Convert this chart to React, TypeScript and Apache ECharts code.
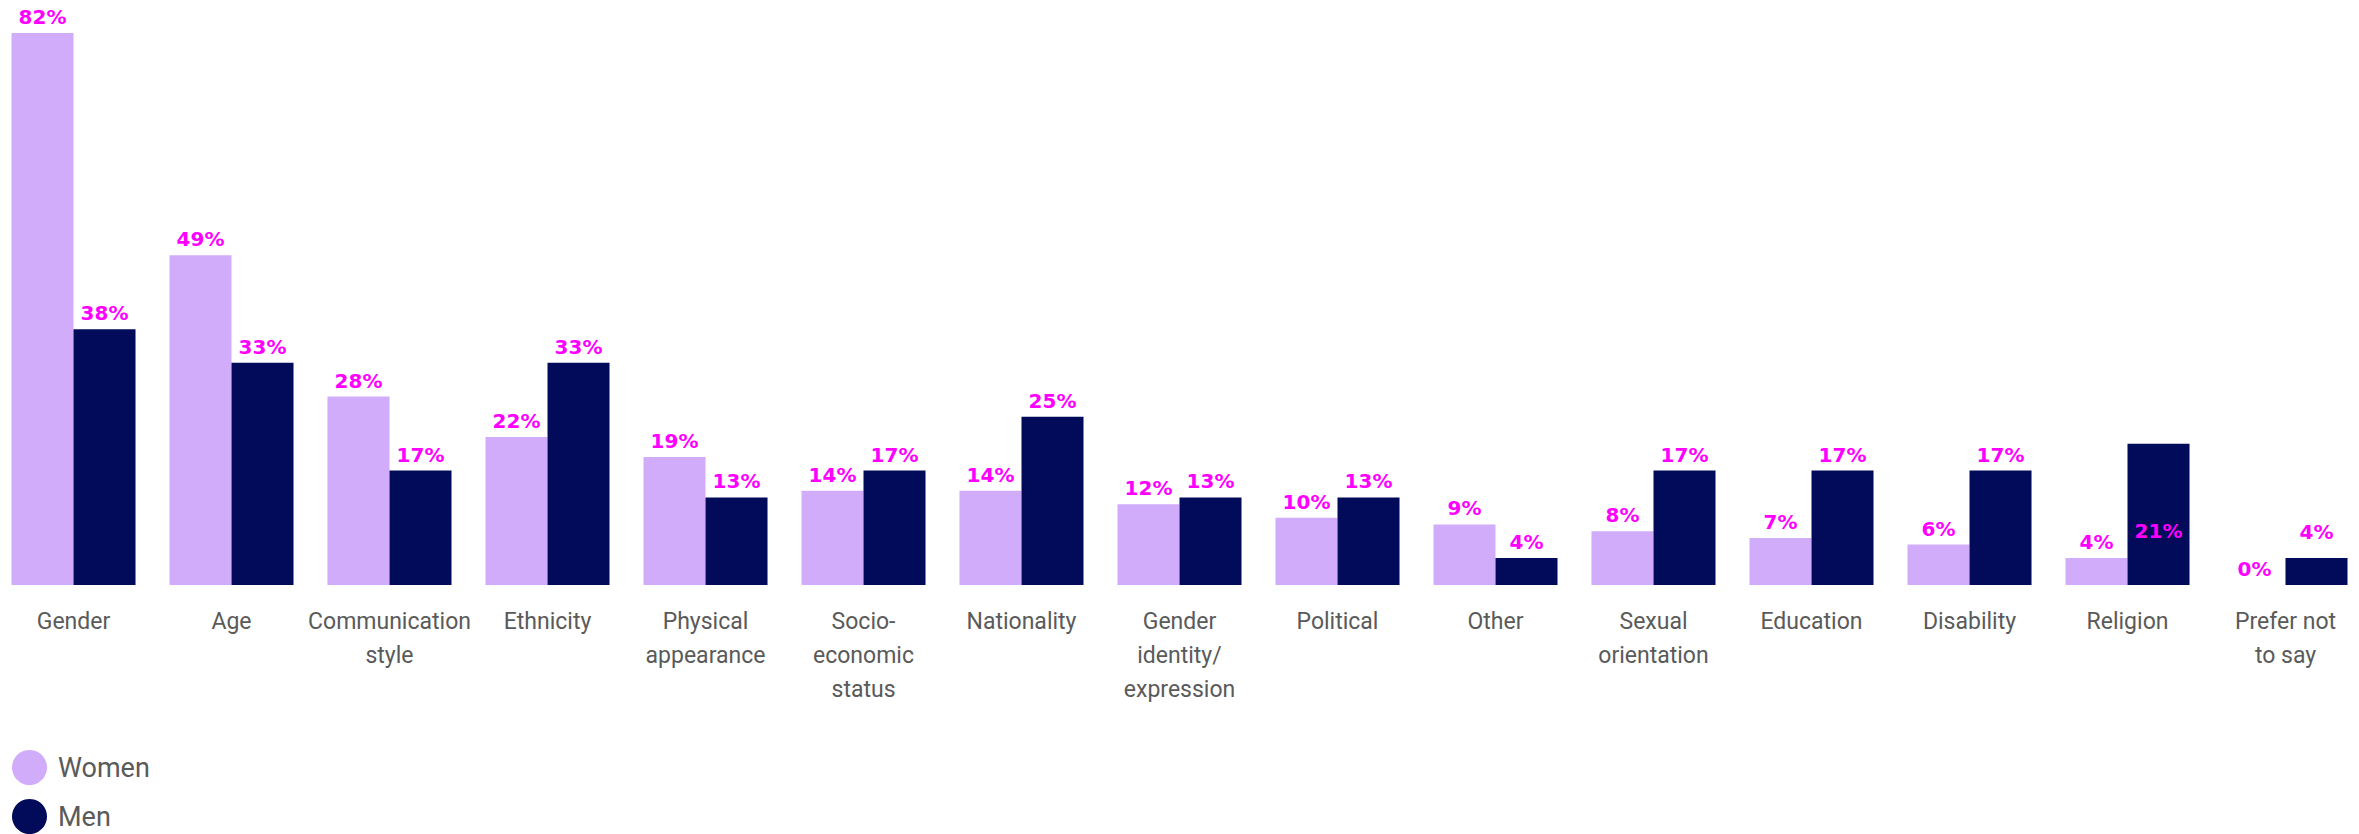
import React, { useEffect, useRef } from "react";
import * as echarts from "echarts";

const categories = [
  "Gender",
  "Age",
  "Communication\nstyle",
  "Ethnicity",
  "Physical\nappearance",
  "Socio-\neconomic\nstatus",
  "Nationality",
  "Gender\nidentity/\nexpression",
  "Political",
  "Other",
  "Sexual\norientation",
  "Education",
  "Disability",
  "Religion",
  "Prefer not\nto say",
];

const women = [82, 49, 28, 22, 19, 14, 14, 12, 10, 9, 8, 7, 6, 4, 0];
const men = [38, 33, 17, 33, 13, 17, 25, 13, 13, 4, 17, 17, 17, 21, 4];

const WOMEN_COLOR = "#D1ACFB";
const MEN_COLOR = "#020A5A";
const LABEL_COLOR = "#FF00FF";
const TEXT_COLOR = "#5a5a5a";

export default function App() {
  const ref = useRef<HTMLDivElement>(null);

  useEffect(() => {
    if (!ref.current) return;
    const chart = echarts.init(ref.current, null, { renderer: "svg" });

    const valueLabel = {
      show: true,
      position: "top",
      distance: 6,
      color: LABEL_COLOR,
      fontFamily: "DejaVu Sans",
      fontWeight: "bold",
      fontSize: 20,
      formatter: (p: any) => `${p.value}%`,
    };

    const menData = men.map((v, i) => {
      if (categories[i] === "Religion") {
        return {
          value: v,
          label: {
            position: ["50%", "62%"],
            align: "center",
            verticalAlign: "middle",
          },
        };
      }
      if (categories[i].startsWith("Prefer")) {
        return { value: v, label: { distance: 16 } };
      }
      return v;
    });

    chart.setOption({
      animation: false,
      backgroundColor: "#ffffff",
      grid: {
        left: -5.5,
        right: -5.5,
        top: 33,
        bottom: 249,
        containLabel: false,
        outerBoundsMode: "none",
      },
      legend: {
        orient: "vertical",
        left: 12,
        top: 750,
        height: 90,
        icon: "circle",
        itemWidth: 35,
        itemHeight: 35,
        itemGap: 14,
        padding: 0,
        textStyle: {
          color: TEXT_COLOR,
          fontSize: 27,
          fontFamily: "Roboto",
          padding: [0, 0, 0, 6],
        },
        data: ["Women", "Men"],
      },
      xAxis: {
        type: "category",
        data: categories,
        axisLine: { show: false },
        axisTick: { show: false },
        axisLabel: {
          interval: 0,
          margin: 19,
          color: TEXT_COLOR,
          fontFamily: "Roboto",
          fontSize: 23,
          lineHeight: 34,
          align: "center",
        },
      },
      yAxis: {
        type: "value",
        min: 0,
        max: "dataMax",
        show: false,
        splitLine: { show: false },
      },
      series: [
        {
          name: "Women",
          type: "bar",
          data: women,
          barGap: "0%",
          barCategoryGap: "21.5%",
          itemStyle: { color: WOMEN_COLOR },
          label: valueLabel,
        },
        {
          name: "Men",
          type: "bar",
          data: menData,
          barGap: "0%",
          barCategoryGap: "21.5%",
          itemStyle: { color: MEN_COLOR },
          label: valueLabel,
        },
      ],
    });

    return () => chart.dispose();
  }, []);

  return (
    <div
      ref={ref}
      style={{ position: "absolute", left: 0, top: 0, width: 2359, height: 834 }}
    />
  );
}
